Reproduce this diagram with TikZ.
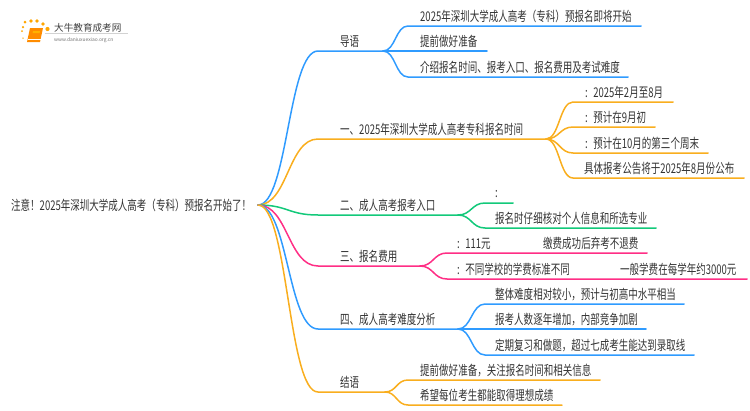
\documentclass[tikz,border=0pt]{standalone}
\usepackage{fontspec}
\newfontfamily\cjk[FakeStretch=0.71]{Noto Sans CJK SC}
\newfontfamily\logofont{Noto Sans CJK SC}
\usetikzlibrary{calc}
\definecolor{cblue}{HTML}{2F9BFF}
\definecolor{corange}{HTML}{F9AE1E}
\definecolor{cgreen}{HTML}{12C97A}
\definecolor{cpink}{HTML}{FF2E85}
\definecolor{ctext}{HTML}{333333}
\newcommand{\cln}{:\hspace{5.5pt}}
\tikzset{
  lab/.style={anchor=base west,inner sep=0pt,text=ctext,font=\cjk\fontsize{13.4}{15}\selectfont},
  wire/.style={line width=1.5pt,line cap=round},
  bez/.style={to path={.. controls ($(\tikztostart)!.5!(\tikztotarget|-\tikztostart)$) and ($(\tikztotarget)!.5!(\tikztostart|-\tikztotarget)$) .. (\tikztotarget)}},
}
\begin{document}
\begin{tikzpicture}[x=1pt,y=-1pt]
\useasboundingbox (0,0) rectangle (750,410);
% logo
\fill[gray!35] (45,33) rectangle (128,33.4);
\foreach \n/\a/\b/\s in {a/23/27/2.5,b/25/22/3,c/31/21/3.6,d/37/21/3.8,e/43/24/3.6,f/47.5/29/4.2,g/22/31/2,h/23/38/1.5}
  \node[circle,fill=orange!70!yellow,inner sep=0pt,minimum size=\s pt] (dot\n) at (\a,\b) {};
\fill[orange!90!yellow] (30,28) -- (43,28) -- (40,42) -- (27,42) -- cycle;
\fill[orange!60!yellow] (33,31) -- (40,31) -- (39.6,33) -- (32.6,33) -- cycle;
\draw[white,line width=.5pt] (28,39.5) -- (40.5,39.5);
\node[anchor=base west,inner sep=0pt,text=black!75,font=\logofont\fontsize{9.6}{10}\selectfont] (logoa) at (54,31) {大牛教育成考网};
\node[anchor=base west,inner sep=0pt,text=black!55,font=\logofont\fontsize{4.9}{6}\selectfont] (logob) at (54,41) {www.daniuxuexiao.org.cn};
% root
\node[lab] (root) at (11,210) {注意！2025年深圳大学成人高考（专科）预报名开始了！};
\coordinate (r) at (258,205);
% level 1 labels
\node[lab] (n0) at (340,46) {导语};
\node[lab] (n1) at (340,134) {一、2025年深圳大学成人高考专科报名时间};
\node[lab] (n2) at (340,210) {二、成人高考报考入口};
\node[lab] (n3) at (340,261) {三、报名费用};
\node[lab] (n4) at (340,324) {四、成人高考难度分析};
\node[lab] (n5) at (340,387) {结语};
% level 1 connector points
\foreach \n/\y/\xa/\xb in {0/51/318/383,1/139/318/546,2/215/318/458,3/266/318/420,4/329/318/458,5/392/318/385}{
  \coordinate (s\n) at (\xa,\y);
  \coordinate (j\n) at (\xb,\y);
}
\draw[wire,cblue] (r) to[bez] (s0) -- (j0);
\draw[wire,corange] (r) to[bez] (s1) -- (j1);
\draw[wire,cgreen] (r) to[bez] (s2) -- (j2);
\draw[wire,cpink] (r) to[bez] (s3) -- (j3);
\draw[wire,cblue] (r) to[bez] (s4) -- (j4);
\draw[wire,corange] (r) to[bez] (s5) -- (j5);
% leaves of 导语
\node[lab] (a1) at (420,21) {2025年深圳大学成人高考（专科）预报名即将开始};
\node[lab] (a2) at (420,46) {提前做好准备};
\node[lab] (a3) at (420,72) {介绍报名时间、报考入口、报名费用及考试难度};
\coordinate (a1s) at (408,26); \coordinate (a1e) at (641,26);
\coordinate (a3s) at (408,77); \coordinate (a3e) at (628,77);
\coordinate (a2e) at (487,51);
\draw[wire,cblue] (j0) to[bez] (a1s) -- (a1e);
\draw[wire,cblue] (j0) -- (a2e);
\draw[wire,cblue] (j0) to[bez] (a3s) -- (a3e);
% leaves of 一
\node[lab] (b1) at (585,97) {\cln 2025年2月至8月};
\node[lab] (b2) at (585,122) {\cln 预计在9月初};
\node[lab] (b3) at (585,148) {\cln 预计在10月的第三个周末};
\node[lab] (b4) at (584,173) {具体报考公告将于2025年8月份公布};
\foreach \n/\y/\xe in {1/102/673,2/127/655,3/153/708,4/178/744}{
  \coordinate (b\n s) at (573,\y);
  \coordinate (b\n e) at (\xe,\y);
  \draw[wire,corange] (j1) to[bez] (b\n s) -- (b\n e);
}
% leaves of 二
\node[lab] (c1) at (495,197) {:};
\node[lab] (c2) at (495,223) {报名时仔细核对个人信息和所选专业};
\coordinate (c1s) at (485,203); \coordinate (c1e) at (513,203);
\coordinate (c2s) at (485,228); \coordinate (c2e) at (656,228);
\draw[wire,cgreen] (j2) to[bez] (c1s) -- (c1e);
\draw[wire,cgreen] (j2) to[bez] (c2s) -- (c2e);
% leaves of 三
\node[lab] (d1) at (457,248) {\cln 111元};
\node[lab] (d1b) at (543,248) {缴费成功后弃考不退费};
\node[lab] (d2) at (457,274) {\cln 不同学校的学费标准不同};
\node[lab] (d2b) at (620,274) {一般学费在每学年约3000元};
\coordinate (d1s) at (447,253); \coordinate (d1e) at (647,253);
\coordinate (d2s) at (447,279); \coordinate (d2e) at (747,279);
\draw[wire,cpink] (j3) to[bez] (d1s) -- (d1e);
\draw[wire,cpink] (j3) to[bez] (d2s) -- (d2e);
% leaves of 四
\node[lab] (e1) at (495,299) {整体难度相对较小，预计与初高中水平相当};
\node[lab] (e2) at (495,324) {报考人数逐年增加，内部竞争加剧};
\node[lab] (e3) at (495,350) {定期复习和做题，超过七成考生能达到录取线};
\coordinate (e1s) at (485,304); \coordinate (e1e) at (684,304);
\coordinate (e2e) at (646,329);
\coordinate (e3s) at (485,355); \coordinate (e3e) at (694,355);
\draw[wire,cblue] (j4) to[bez] (e1s) -- (e1e);
\draw[wire,cblue] (j4) -- (e2e);
\draw[wire,cblue] (j4) to[bez] (e3s) -- (e3e);
% leaves of 结语
\node[lab] (f1) at (420,375) {提前做好准备，关注报名时间和相关信息};
\node[lab] (f2) at (420,400) {希望每位考生都能取得理想成绩};
\coordinate (f1s) at (408,380); \coordinate (f1e) at (600,380);
\coordinate (f2s) at (408,405); \coordinate (f2e) at (562,405);
\draw[wire,corange] (j5) to[bez] (f1s) -- (f1e);
\draw[wire,corange] (j5) to[bez] (f2s) -- (f2e);
\end{tikzpicture}
\end{document}
